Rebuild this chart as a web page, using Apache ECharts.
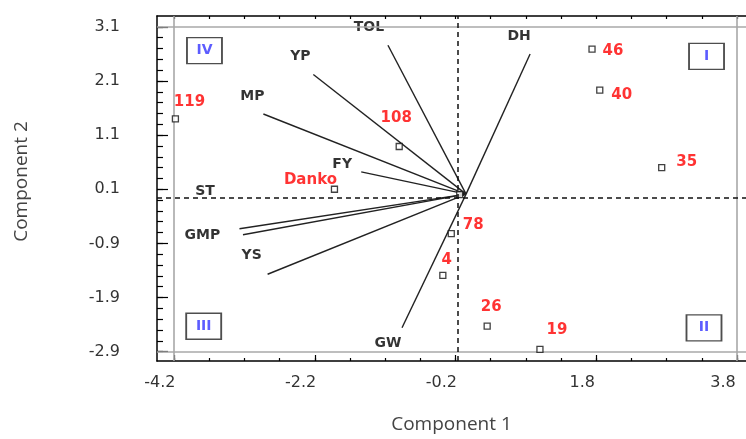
<!DOCTYPE html>
<html><head><meta charset="utf-8">
<script src="https://cdn.jsdelivr.net/npm/echarts@6/dist/echarts.min.js"></script>
<style>html,body{margin:0;padding:0;background:#fff}#c{width:746px;height:439px}</style>
</head><body><div id="c"></div>
<script>
// ---- data ----
const xTickLabels = [-4.2, -2.2, -0.2, 1.8, 3.8];
const yTickLabels = [3.1, 2.1, 1.1, 0.1, -0.9, -1.9, -2.9];

const genotypes = ['119', 'Danko', '108', '46', '40', '35', '78', '4', '26', '19'];
const genoX = [-3.98, -1.72, -0.80, 1.94, 2.05, 2.93, -0.06, -0.18, 0.45, 1.20];
const genoY = [1.40, 0.10, 0.89, 2.69, 1.93, 0.50, -0.72, -1.49, -2.43, -2.86];

const originPoint = [[0.06, 0.0]];

const traits = ['TOL', 'DH', 'YP', 'MP', 'FY', 'GMP', 'ST', 'YS', 'GW'];
const traitX = [-0.96, 1.06, -2.02, -2.73, -1.34, -3.07, -3.02, -2.67, -0.76];
const traitY = [2.76, 2.60, 2.22, 1.49, 0.42, -0.63, -0.74, -1.47, -2.46];
const vectorOrigin = [0.15, 0.01];

const quadrants = ['I', 'II', 'III', 'IV'];

// ---- layout (positions / styles) ----
const AX = { xMin: -4.2416, xMax: 4.1279, yMin: -3.073, yMax: 3.301 };
const xMinorTicks = [], xMajorTicks = [-4, -2, 0, 2, 4];
for (let v = -4; v <= 4.001; v += 0.5) xMinorTicks.push(+v.toFixed(2));
const yMinorTicks = [];
for (let v = -2.9; v <= 3.101; v += 0.2) yMinorTicks.push(+v.toFixed(2));
const yMajorTicks = yTickLabels.slice();
const refLines = { x: 0.03, y: -0.05 };
const grayLines = { x: [-4, 4], y: [3.1, -2.9] };
const quadPos = { I: [3.567, 2.555], II: [3.531, -2.46], III: [-3.578, -2.43], IV: [-3.567, 2.661] };
const genoLabelOffset = {
  '119': [14, -17], 'Danko': [-24, -9], '108': [-3, -28], '46': [21, 2], '40': [22, 5],
  '35': [25, -5], '78': [22, -9], '4': [4, -15], '26': [4, -19], '19': [17, -19]
};
const traitLabelOffset = {
  TOL: [-19, -18], DH: [-11, -18], YP: [-13, -18], MP: [-11, -18], FY: [-19, -8],
  GMP: [-37, 7], ST: [-38, -43], YS: [-16, -19], GW: [-14, 16]
};

const tickFont = { fontFamily: 'DejaVu Sans', fontSize: 16, color: '#333' };
const boldFont = 'DejaVu Sans';
const noBorder = { textBorderWidth: 0, textBorderColor: 'transparent', textShadowBlur: 0 };

const chart = echarts.init(document.getElementById('c'), null, { renderer: 'canvas' });

function xAx(extra) {
  return Object.assign({
    type: 'value', min: AX.xMin, max: AX.xMax, splitLine: { show: false },
    axisLine: { show: false, onZero: false }, axisTick: { show: false }, axisLabel: { show: false }
  }, extra);
}
function yAx(extra) {
  return Object.assign({
    type: 'value', min: AX.yMin, max: AX.yMax, splitLine: { show: false },
    axisLine: { show: false, onZero: false }, axisTick: { show: false }, axisLabel: { show: false }
  }, extra);
}
const frameLine = { show: true, onZero: false, lineStyle: { color: '#000', width: 1.5 } };
const tickStyle = { color: '#000', width: 1.2 };

const vectorSeries = traits.map((t, i) => ({
  type: 'line', name: t, xAxisIndex: 0, yAxisIndex: 0, silent: true, z: 3,
  symbol: 'none', animation: false,
  lineStyle: { color: '#222', width: 1.4 },
  data: [vectorOrigin, [traitX[i], traitY[i]]]
}));

const option = {
  animation: false,
  backgroundColor: '#fff',
  grid: { left: 157, top: 16, right: 0, bottom: 74.5, containLabel: false },
  xAxis: [
    xAx({
      position: 'bottom',
      axisLine: frameLine,
      axisTick: { show: true, inside: true, length: 3, customValues: xMinorTicks, lineStyle: tickStyle },
      axisLabel: { show: true, customValues: xTickLabels, formatter: v => (+v).toFixed(1), margin: 14, ...tickFont },
      name: 'Component 1', nameLocation: 'middle', nameGap: 54,
      nameTextStyle: { fontFamily: 'Open Sans', fontSize: 19, color: '#444' }
    }),
    xAx({
      position: 'bottom',
      axisTick: { show: true, inside: true, length: 6, customValues: xMajorTicks, lineStyle: tickStyle }
    }),
    xAx({
      position: 'top',
      axisLine: frameLine,
      axisTick: { show: true, inside: true, length: 3, customValues: xMinorTicks, lineStyle: tickStyle }
    })
  ],
  yAxis: [
    yAx({
      position: 'left',
      axisLine: frameLine,
      axisTick: { show: true, inside: true, length: 6, customValues: yMinorTicks, lineStyle: tickStyle },
      axisLabel: { show: true, customValues: yTickLabels, formatter: v => (+v).toFixed(1), margin: 37, ...tickFont },
      name: 'Component 2', nameLocation: 'middle', nameGap: 126,
      nameTextStyle: { fontFamily: 'Open Sans', fontSize: 19, color: '#444', padding: [0, 0, 0, 14] }
    }),
    yAx({
      position: 'left', offset: 0,
      axisTick: { show: true, inside: true, length: 11, customValues: yMajorTicks, lineStyle: tickStyle }
    })
  ],
  series: [
    {
      type: 'scatter', name: 'traitLabels', xAxisIndex: 0, yAxisIndex: 0, z: 1, silent: true,
      symbolSize: 0.1, itemStyle: { color: 'rgba(0,0,0,0)' },
      data: traits.map((t, i) => ({
        name: t, value: [traitX[i], traitY[i]],
        label: { show: true, position: 'inside', offset: traitLabelOffset[t], formatter: t,
          fontFamily: boldFont, fontWeight: 'bold', fontSize: 14, color: '#000', ...noBorder }
      })),
      markLine: {
        silent: true, symbol: ['none', 'none'], label: { show: false }, animation: false,
        data: [
          ...grayLines.x.map(v => ({ xAxis: v, lineStyle: { color: '#a8a8a8', width: 1.6, type: 'solid' } })),
          ...grayLines.y.map(v => ({ yAxis: v, lineStyle: { color: '#a8a8a8', width: 1.6, type: 'solid' } })),
          { xAxis: refLines.x, lineStyle: { color: '#111', width: 1.5, type: [5, 4] } },
          { yAxis: refLines.y, lineStyle: { color: '#111', width: 1.5, type: [5, 4] } }
        ]
      }
    },
    ...vectorSeries,
    {
      type: 'scatter', name: 'genotypes', xAxisIndex: 0, yAxisIndex: 0, z: 5, silent: true,
      symbol: 'rect', symbolSize: 6,
      itemStyle: { color: '#fff', borderColor: '#111', borderWidth: 1.3 },
      data: genotypes.map((g, i) => ({
        name: g, value: [genoX[i], genoY[i]],
        label: { show: true, position: 'inside', offset: genoLabelOffset[g], formatter: g,
          fontFamily: boldFont, fontWeight: 'bold', fontSize: 15, color: '#ff0000', ...noBorder }
      }))
    },
    {
      type: 'scatter', name: 'origin', xAxisIndex: 0, yAxisIndex: 0, z: 4, silent: true,
      symbol: 'rect', symbolSize: 6,
      itemStyle: { color: '#fff', borderColor: '#111', borderWidth: 1.3 },
      data: originPoint
    },
    {
      type: 'scatter', name: 'quadrants', xAxisIndex: 0, yAxisIndex: 0, z: 6, silent: true,
      symbol: 'rect', symbolSize: [35, 26],
      itemStyle: { color: '#fff', borderColor: '#222', borderWidth: 1.6 },
      data: quadrants.map(q => ({
        name: q, value: quadPos[q],
        label: { show: true, position: 'inside', formatter: q,
          fontFamily: boldFont, fontWeight: 'bold', fontSize: 14, color: '#3333ff', ...noBorder }
      }))
    }
  ]
};
chart.setOption(option);
</script></body></html>
